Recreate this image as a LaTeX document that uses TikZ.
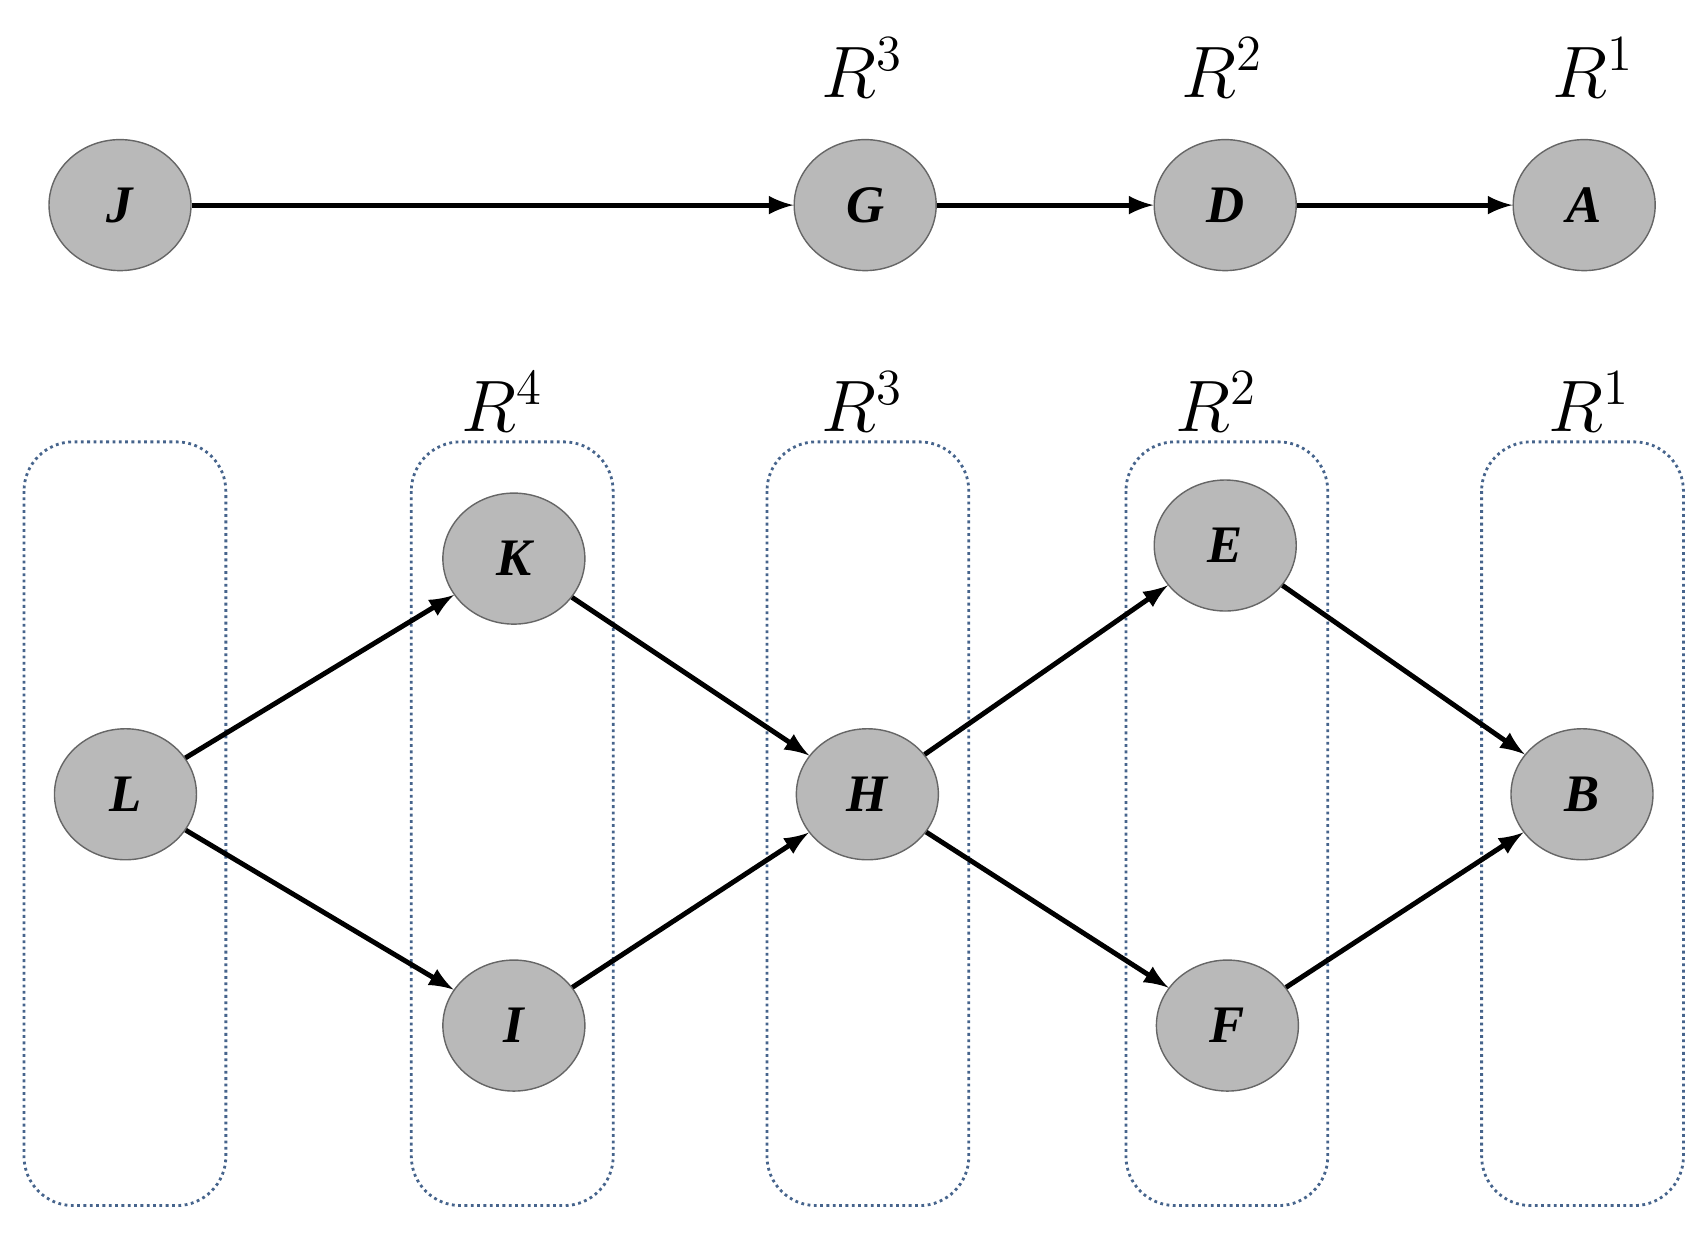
\documentclass[tikz,border=0pt]{standalone}
\usepackage{fontspec}
\setmainfont{Liberation Serif}
\begin{document}
\begin{tikzpicture}[x=0.01091cm,y=-0.01091cm,
  nd/.style={ellipse,draw=gray!80!black,fill=gray!55,minimum width=1.42cm,minimum height=1.31cm,inner sep=0pt,font=\fontsize{15}{15}\selectfont\bfseries\itshape},
  lab/.style={font=\fontsize{22}{22}\selectfont},
  box/.style={draw={rgb,255:red,70;green,100;blue,140},densely dotted,thick,rounded corners=14pt},
  ar/.style={->,>=latex,line width=1.4pt}]
\useasboundingbox (0,0) rectangle (1560,1130);
\usetikzlibrary{shapes.geometric}
\node[nd] (J) at (110,188) {J};
\node[nd] (G) at (793,188) {G};
\node[nd] (D) at (1123,188) {D};
\node[nd] (A) at (1452,188) {A};
\node[lab] (r3a) at (790,62) {$R^3$};
\node[lab] (r2a) at (1120,62) {$R^2$};
\node[lab] (r1a) at (1460,62) {$R^1$};
\foreach \x/\n in {22/b1,377/b2,703/b3,1032/b4,1358/b5}
  \draw[box] (\x,405) rectangle (\x+185,1105);
\node[lab] (r4) at (460,368) {$R^4$};
\node[lab] (r3) at (790,368) {$R^3$};
\node[lab] (r2) at (1115,368) {$R^2$};
\node[lab] (r1) at (1457,368) {$R^1$};
\node[nd] (L) at (115,728) {L};
\node[nd] (K) at (471,512) {K};
\node[nd] (I) at (471,940) {I};
\node[nd] (H) at (795,728) {H};
\node[nd] (E) at (1123,500) {E};
\node[nd] (F) at (1125,940) {F};
\node[nd] (B) at (1450,728) {B};
\draw[ar] (J)--(G); \draw[ar] (G)--(D); \draw[ar] (D)--(A);
\draw[ar] (L)--(K); \draw[ar] (L)--(I); \draw[ar] (K)--(H); \draw[ar] (I)--(H);
\draw[ar] (H)--(E); \draw[ar] (H)--(F); \draw[ar] (E)--(B); \draw[ar] (F)--(B);
\end{tikzpicture}
\end{document}
